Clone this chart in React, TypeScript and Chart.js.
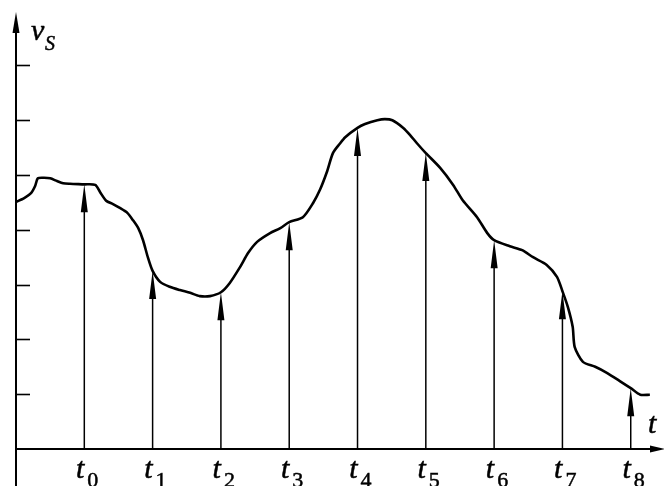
import React, { useEffect, useRef } from "react";
import { Chart, registerables } from "chart.js";

Chart.register(...registerables);

// Continuous signal v_S(t) (t in sampling-interval units, v in tick units)
const curveT = [
  0, 0.12, 0.22, 0.28, 0.32, 0.41, 0.5, 0.6, 0.69, 0.79, 1.0, 1.16, 1.23, 1.32, 1.42, 1.52, 1.63, 1.71,
  1.79, 1.86, 1.93, 2.0, 2.11, 2.25, 2.4, 2.55, 2.69, 2.84, 3.0, 3.13, 3.28, 3.4, 3.53, 3.72, 3.87, 4.0,
  4.2, 4.35, 4.45, 4.55, 4.64, 4.74, 4.82, 5.0, 5.11, 5.29, 5.4, 5.51, 5.67, 5.77, 5.87, 6.0, 6.21, 6.4,
  6.54, 6.75, 6.9, 7.0, 7.23, 7.41, 7.57, 7.77, 7.92, 8.0, 8.08, 8.15, 8.18, 8.3, 8.48, 8.65, 8.84, 9.0,
  9.14, 9.28,
];
const curveV = [
  4.51, 4.58, 4.67, 4.8, 4.94, 4.95, 4.94, 4.89, 4.85, 4.84, 4.83, 4.82, 4.69, 4.53, 4.47, 4.4, 4.31, 4.18,
  4.03, 3.81, 3.5, 3.25, 3.05, 2.96, 2.9, 2.85, 2.79, 2.79, 2.86, 3.03, 3.32, 3.58, 3.78, 3.94, 4.03, 4.14,
  4.23, 4.49, 4.73, 5.05, 5.4, 5.57, 5.69, 5.86, 5.93, 6.0, 6.02, 6.0, 5.86, 5.73, 5.58, 5.4, 5.13, 4.82,
  4.54, 4.23, 3.94, 3.81, 3.7, 3.63, 3.5, 3.36, 3.14, 2.88, 2.59, 2.23, 1.86, 1.59, 1.5, 1.39, 1.24, 1.11,
  0.99, 0.99,
];

// Sampling instants and sampled values
const sampleT = [1, 2, 3, 4, 5, 6, 7, 8, 9];
const sampleV = [4.83, 3.25, 2.86, 4.14, 5.86, 5.4, 3.81, 2.88, 1.11];
const sampleLabels = ["0", "1", "2", "3", "4", "5", "6", "7", "8"];

// Y-axis tick values
const yTicks = [1, 2, 3, 4, 5, 6, 7];

const X_MAX = 9.487;
const Y_MAX = 7.975;

const SERIF = '"Liberation Serif"';

function label(ctx: CanvasRenderingContext2D, text: string, x: number, y: number) {
  ctx.fillText(text, x, y);
  ctx.strokeText(text, x, y);
}

const axesPlugin = {
  id: "signalAxes",
  afterDraw(chart: any) {
    const ctx = chart.ctx as CanvasRenderingContext2D;
    const xs = chart.scales.x;
    const ys = chart.scales.y;
    const x0 = xs.getPixelForValue(0);
    const y0 = ys.getPixelForValue(0);
    ctx.save();

    // prime the serif font faces: drawn in white on an empty white area
    ctx.fillStyle = "#ffffff";
    ctx.textAlign = "left";
    ctx.textBaseline = "alphabetic";
    ctx.font = `italic 40px ${SERIF}`;
    ctx.fillText("t v S 0128 LS", 420, 45);
    ctx.font = `40px ${SERIF}`;
    ctx.fillText("0128", 420, 90);

    ctx.strokeStyle = "#000";
    ctx.fillStyle = "#000";

    // Y axis
    const yTop = ys.getPixelForValue(Y_MAX);
    ctx.lineWidth = 2;
    ctx.beginPath();
    ctx.moveTo(x0, chart.height);
    ctx.lineTo(x0, yTop + 18);
    ctx.stroke();
    ctx.beginPath();
    ctx.moveTo(x0, yTop);
    ctx.lineTo(x0 - 3.5, yTop + 21);
    ctx.lineTo(x0 + 3.5, yTop + 21);
    ctx.closePath();
    ctx.fill();

    // X axis
    const xRight = xs.getPixelForValue(X_MAX) + 1;
    ctx.beginPath();
    ctx.moveTo(x0, y0);
    ctx.lineTo(xRight - 12, y0);
    ctx.stroke();
    ctx.beginPath();
    ctx.moveTo(xRight, y0);
    ctx.lineTo(xRight - 15, y0 - 3.5);
    ctx.lineTo(xRight - 15, y0 + 3.5);
    ctx.closePath();
    ctx.fill();

    // Y ticks
    ctx.lineWidth = 1.6;
    for (const v of yTicks) {
      const py = Math.round(ys.getPixelForValue(v)) + 0.5;
      ctx.beginPath();
      ctx.moveTo(x0, py);
      ctx.lineTo(x0 + 14, py);
      ctx.stroke();
    }

    // Sample arrows
    for (let i = 0; i < sampleT.length; i++) {
      const px = xs.getPixelForValue(sampleT[i]);
      const py = ys.getPixelForValue(sampleV[i]);
      ctx.lineWidth = 1.5;
      ctx.beginPath();
      ctx.moveTo(px, y0);
      ctx.lineTo(px, py + 20);
      ctx.stroke();
      ctx.beginPath();
      ctx.moveTo(px, py);
      ctx.lineTo(px - 3.5, py + 28);
      ctx.lineTo(px + 3.5, py + 28);
      ctx.closePath();
      ctx.fill();
    }

    // labels t_i
    ctx.lineWidth = 0.5;
    for (let i = 0; i < sampleT.length; i++) {
      const px = xs.getPixelForValue(sampleT[i]);
      ctx.font = `italic 30px ${SERIF}`;
      ctx.textAlign = "right";
      label(ctx, "t", px + 0, y0 + 29);
      ctx.font = `22px ${SERIF}`;
      ctx.textAlign = "left";
      label(ctx, sampleLabels[i], px + 3, y0 + 38);
    }

    // Axis labels
    ctx.textAlign = "left";
    ctx.font = `italic 30px ${SERIF}`;
    label(ctx, "t", xs.getPixelForValue(X_MAX) - 16, y0 - 16);
    ctx.font = `italic 30px ${SERIF}`;
    label(ctx, "v", x0 + 15, yTop + 28);
    ctx.font = `italic 20px ${SERIF}`;
    label(ctx, "S", x0 + 29, yTop + 38);

    ctx.restore();
  },
};

export default function App() {
  const canvasRef = useRef<HTMLCanvasElement | null>(null);

  useEffect(() => {
    if (!canvasRef.current) return;
    const points = curveT.map((t, i) => ({ x: t, y: curveV[i] }));
    const chart = new Chart(canvasRef.current, {
      type: "line",
      data: {
        datasets: [
          {
            data: points,
            borderColor: "#000",
            borderWidth: 2.6,
            pointRadius: 0,
            tension: 0.25,
            fill: false,
            clip: false as any,
          },
        ],
      },
      options: {
        responsive: false,
        animation: false,
        devicePixelRatio: 1,
        layout: { padding: { left: 16, top: 12, right: 0, bottom: 37 } },
        plugins: { legend: { display: false }, tooltip: { enabled: false } },
        scales: {
          x: { type: "linear", min: 0, max: X_MAX, display: false },
          y: { type: "linear", min: 0, max: Y_MAX, display: false },
        },
      },
      plugins: [axesPlugin],
    });
    return () => {
      chart.destroy();
    };
  }, []);

  return (
    <div style={{ position: "absolute", left: 0, top: 0, width: 664, height: 486, background: "#fff" }}>
      <canvas ref={canvasRef} width={664} height={486} style={{ width: 664, height: 486 }} />
    </div>
  );
}
